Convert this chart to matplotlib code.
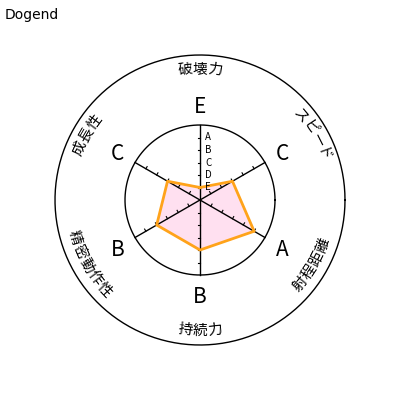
import numpy as np
import matplotlib
matplotlib.use("Agg")
import matplotlib.pyplot as plt

plt.rcParams["font.family"] = ["Noto Sans CJK JP", "DejaVu Sans"]

title = "Dogend"
axis_names = ["破壊力", "スピード", "射程距離", "持続力", "精密動作性", "成長性"]
grades = ["E", "C", "A", "B", "B", "C"]
grade_scale = ["A", "B", "C", "D", "E"]
grade_value = {"A": 5, "B": 4, "C": 3, "D": 2, "E": 1}

unit = 12.5          # px per grade step
r_inner = 6 * unit
r_outer = 145
r_name = 131
r_grade = 95

fig = plt.figure(figsize=(4, 4), dpi=100)
ax = fig.add_axes([0, 0, 1, 1])
ax.set_xlim(-200, 200)
ax.set_ylim(-200, 200)
ax.set_aspect("equal")
ax.axis("off")

n = len(axis_names)
angles = np.deg2rad(90 - np.arange(n) * 360 / n)

# circles
t = np.linspace(0, 2 * np.pi, 400)
ax.plot(r_inner * np.cos(t), r_inner * np.sin(t), color="black", lw=1)
ax.plot(r_outer * np.cos(t), r_outer * np.sin(t), color="black", lw=1)

# polygon
vals = np.array([grade_value[g] for g in grades]) * unit
px = np.append(vals * np.cos(angles), vals[0] * np.cos(angles[0]))
py = np.append(vals * np.sin(angles), vals[0] * np.sin(angles[0]))
ax.fill(px, py, color="#FFE0F0", zorder=2)
ax.plot(px, py, color="#FFA31A", lw=2, zorder=4)

# axis lines and ticks (ticks on the left-hand side of each full axis)
for a in angles[:3]:
    ax.plot([-r_inner * np.cos(a), r_inner * np.cos(a)],
            [-r_inner * np.sin(a), r_inner * np.sin(a)],
            color="black", lw=1, zorder=3)
    nx, ny = -np.sin(a), np.cos(a)
    for k in range(-5, 6):
        if k == 0:
            continue
        x0, y0 = k * unit * np.cos(a), k * unit * np.sin(a)
        ax.plot([x0, x0 + 2.5 * nx], [y0, y0 + 2.5 * ny],
                color="black", lw=0.8, zorder=3)

# grade scale labels
for i, g in enumerate(grade_scale):
    ax.text(8, (5 - i) * unit, g, fontsize=7, ha="center", va="center",
            zorder=5)

# grade letters
for a, g in zip(angles, grades):
    ax.text(r_grade * np.cos(a), r_grade * np.sin(a) - 2, g, fontsize=15,
            ha="center", va="center")

# curved axis names
step = np.deg2rad(6.6)
for a, name in zip(angles, axis_names):
    m = len(name)
    upper = np.sin(a) > 0.1
    for j, ch in enumerate(name):
        off = (j - (m - 1) / 2) * step
        if upper:
            phi = a - off
            rot = np.rad2deg(phi) - 90
        else:
            phi = a + off
            rot = np.rad2deg(phi) + 90
        ax.text(r_name * np.cos(phi), r_name * np.sin(phi), ch, fontsize=10.5,
                rotation=rot, rotation_mode="anchor", ha="center", va="center")

fig.text(5 / 400, 1 - 15 / 400, title, fontsize=10, ha="left", va="center",
         family="DejaVu Sans")

fig.savefig("out.png", dpi=100)
